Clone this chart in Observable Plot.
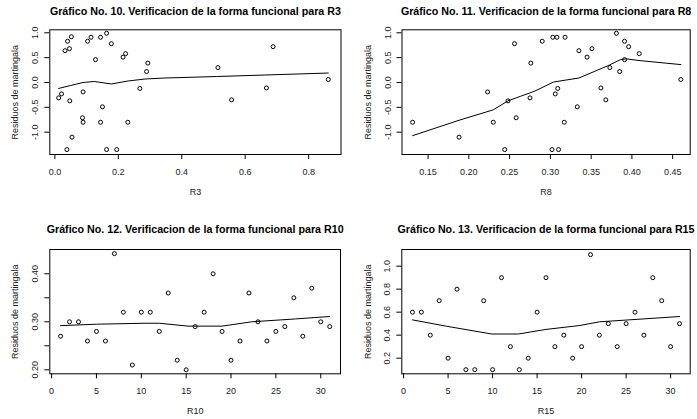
<!DOCTYPE html>
<html><head><meta charset="utf-8">
<script src="https://cdn.jsdelivr.net/npm/d3@7"></script>
<script src="https://cdn.jsdelivr.net/npm/@observablehq/plot@0.6"></script>
<style>
body{margin:0;background:#fff;}
#wrap{position:relative;width:697px;height:419px;overflow:hidden;background:#fff;}
.panel{position:absolute;}
</style></head>
<body><div id="wrap"></div>
<script>
// ---- Panel 1: R3 ----
const p1_title = "Gráfico No. 10. Verificacion de la forma funcional para R3";
const p1_xlabel = "R3";
const p1_x = [0.012,0.021,0.032,0.040,0.046,0.052,0.038,0.047,0.054,0.089,0.087,0.089,0.103,0.114,0.128,0.144,0.144,0.150,0.163,0.163,0.178,0.195,0.215,0.223,0.230,0.268,0.289,0.293,0.514,0.557,0.667,0.688,0.862];
const p1_y = [-0.31,-0.23,0.64,0.83,0.68,0.92,-1.35,-0.37,-1.10,-0.19,-0.71,-0.80,0.83,0.91,0.46,0.91,-0.80,-0.49,0.99,-1.35,0.78,-1.35,0.51,0.58,-0.80,-0.12,0.22,0.39,0.30,-0.35,-0.11,0.72,0.06];
const p1_lx = [0.012,0.05,0.089,0.124,0.178,0.231,0.284,0.347,0.51,0.66,0.862];
const p1_ly = [-0.12,-0.06,0.0,0.02,-0.03,0.03,0.07,0.09,0.12,0.15,0.19];
const p1_xticks = [0,0.2,0.4,0.6,0.8];
const p1_xticklabels = ["0.0","0.2","0.4","0.6","0.8"];
const p1_yticks = [-1,-0.5,0,0.5,1];
const p1_yticklabels = ["-1.0","-0.5","0.0","0.5","1.0"];

// ---- Panel 2: R8 ----
const p2_title = "Gráfico No. 11. Verificacion de la forma funcional para R8";
const p2_xlabel = "R8";
const p2_x = [0.131,0.188,0.223,0.230,0.244,0.248,0.256,0.258,0.275,0.276,0.290,0.302,0.303,0.306,0.308,0.309,0.310,0.317,0.318,0.333,0.335,0.345,0.351,0.362,0.368,0.373,0.381,0.385,0.391,0.391,0.396,0.409,0.460];
const p2_y = [-0.80,-1.10,-0.19,-0.80,-1.35,-0.37,0.78,-0.71,-0.31,0.39,0.83,-1.35,0.91,-0.23,0.91,-0.12,-1.35,-0.80,0.91,-0.49,0.64,0.51,0.68,-0.11,-0.35,0.30,0.99,0.22,0.83,0.46,0.72,0.58,0.06];
const p2_lx = [0.131,0.188,0.230,0.248,0.263,0.280,0.304,0.335,0.371,0.386,0.393,0.410,0.460];
const p2_ly = [-1.07,-0.76,-0.55,-0.37,-0.28,-0.18,0.01,0.09,0.34,0.46,0.475,0.44,0.36];
const p2_xticks = [0.15,0.20,0.25,0.30,0.35,0.40,0.45];
const p2_xticklabels = ["0.15","0.20","0.25","0.30","0.35","0.40","0.45"];
const p2_yticks = [-1,-0.5,0,0.5,1];
const p2_yticklabels = ["-1.0","-0.5","0.0","0.5","1.0"];

// ---- Panel 3: R10 ----
const p3_title = "Gráfico No. 12. Verificacion de la forma funcional para R10";
const p3_xlabel = "R10";
const p3_x = [1,2,3,4,5,6,7,8,9,10,11,12,13,14,15,16,17,18,19,20,21,22,23,24,25,26,27,28,29,30,31];
const p3_y = [0.27,0.30,0.30,0.26,0.28,0.26,0.442,0.32,0.21,0.32,0.32,0.28,0.36,0.22,0.20,0.29,0.32,0.40,0.28,0.22,0.26,0.36,0.30,0.26,0.28,0.29,0.35,0.27,0.37,0.30,0.29];
const p3_lx = [1,5,10.3,12,15.2,19,22.3,27.2,31];
const p3_ly = [0.292,0.295,0.297,0.297,0.291,0.291,0.300,0.306,0.311];
const p3_xticks = [0,5,10,15,20,25,30];
const p3_xticklabels = ["0","5","10","15","20","25","30"];
const p3_yticks = [0.20,0.25,0.30,0.35,0.40];
const p3_yticklabels = ["0.20","","0.30","","0.40"];

// ---- Panel 4: R15 ----
const p4_title = "Gráfico No. 13. Verificacion de la forma funcional para R15";
const p4_xlabel = "R15";
const p4_x = [1,2,3,4,5,6,7,8,9,10,11,12,13,14,15,16,17,18,19,20,21,22,23,24,25,26,27,28,29,30,31];
const p4_y = [0.6,0.6,0.4,0.7,0.2,0.8,0.1,0.1,0.7,0.1,0.9,0.3,0.1,0.2,0.6,0.9,0.3,0.4,0.2,0.3,1.1,0.4,0.5,0.3,0.5,0.6,0.4,0.9,0.7,0.3,0.5];
const p4_lx = [1,4.8,9.9,12.9,16,19.8,22,31];
const p4_ly = [0.533,0.478,0.41,0.41,0.45,0.484,0.516,0.562];
const p4_xticks = [0,5,10,15,20,25,30];
const p4_xticklabels = ["0","5","10","15","20","25","30"];
const p4_yticks = [0.2,0.4,0.6,0.8,1.0];
const p4_yticklabels = ["0.2","0.4","0.6","0.8","1.0"];

const ylabel = "Residuos de martingala";

function panel(o) {
  const pts = o.x.map((v, i) => ({x: v, y: o.y[i]}));
  const ln = o.lx.map((v, i) => ({x: v, y: o.ly[i]}));
  const xfmt = d => o.xtl[o.xt.indexOf(d)];
  const yfmt = d => o.ytl[o.yt.indexOf(d)];
  return Plot.plot({
    width: o.w, height: o.h,
    marginLeft: o.ml, marginRight: o.mr, marginTop: o.mt, marginBottom: o.mb,
    style: {fontFamily: "'Liberation Sans', Arial, sans-serif", fontSize: "9px", color: "#000", background: "#fff"},
    x: {domain: o.xd},
    y: {domain: o.yd},
    marks: [
      Plot.frame({stroke: "#000", strokeWidth: 1}),
      Plot.line(ln, {x: "x", y: "y", stroke: "#000", strokeWidth: 1}),
      Plot.dot(pts, {x: "x", y: "y", r: 2, stroke: "#000", strokeWidth: 1, fill: "none"}),
      Plot.axisX({ticks: o.xt, tickFormat: xfmt, tickSize: 5, tickPadding: 9, fontSize: 9, fill: "#222",
        label: o.xl, labelAnchor: "center", labelOffset: 40, labelArrow: "none"}),
      Plot.axisY({ticks: o.yt, tickFormat: yfmt, tickSize: 5, tickPadding: 6.5, tickRotate: -90, fontSize: 9, fill: "#222",
        label: ylabel, labelAnchor: "center", labelOffset: o.ylo, labelArrow: "none"}),
      Plot.text([o.title], {text: d => d, frameAnchor: "top", dy: o.tdy, fontSize: 10.7, fontWeight: "bold", fill: "#000", lineAnchor: "middle"})
    ]
  });
}

const panels = [
  {left: 0, top: 0, w: 348, h: 209, ml: 49.3, mr: 7.5, mt: 29.3, mb: 55,
   x: p1_x, y: p1_y, lx: p1_lx, ly: p1_ly, xt: p1_xticks, xtl: p1_xticklabels, yt: p1_yticks, ytl: p1_yticklabels,
   xd: [-0.016, 0.902], yd: [-1.449, 1.06], xl: p1_xlabel, title: p1_title, tdy: -18.6, ylo: 38},
  {left: 348, top: 0, w: 349, h: 209, ml: 53.5, mr: 7.3, mt: 29.3, mb: 55,
   x: p2_x, y: p2_y, lx: p2_lx, ly: p2_ly, xt: p2_xticks, xtl: p2_xticklabels, yt: p2_yticks, ytl: p2_yticklabels,
   xd: [0.118, 0.4715], yd: [-1.449, 1.06], xl: p2_xlabel, title: p2_title, tdy: -18.6, ylo: 37},
  {left: 0, top: 209, w: 348, h: 210, ml: 49.3, mr: 8, mt: 40, mb: 45.7,
   x: p3_x, y: p3_y, lx: p3_lx, ly: p3_ly, xt: p3_xticks, xtl: p3_xticklabels, yt: p3_yticks, ytl: p3_yticklabels,
   xd: [-0.2, 32.2], yd: [0.1917, 0.4506], xl: p3_xlabel, title: p3_title, tdy: -19.5, ylo: 38},
  {left: 348, top: 209, w: 349, h: 210, ml: 53.3, mr: 7.3, mt: 40, mb: 45.7,
   x: p4_x, y: p4_y, lx: p4_lx, ly: p4_ly, xt: p4_xticks, xtl: p4_xticklabels, yt: p4_yticks, ytl: p4_yticklabels,
   xd: [-0.2, 32.2], yd: [0.064, 1.145], xl: p4_xlabel, title: p4_title, tdy: -19.5, ylo: 37}
];

const wrap = document.getElementById("wrap");
for (const o of panels) {
  const d = document.createElement("div");
  d.className = "panel";
  d.style.left = o.left + "px";
  d.style.top = o.top + "px";
  d.appendChild(panel(o));
  wrap.appendChild(d);
}
</script></body></html>
